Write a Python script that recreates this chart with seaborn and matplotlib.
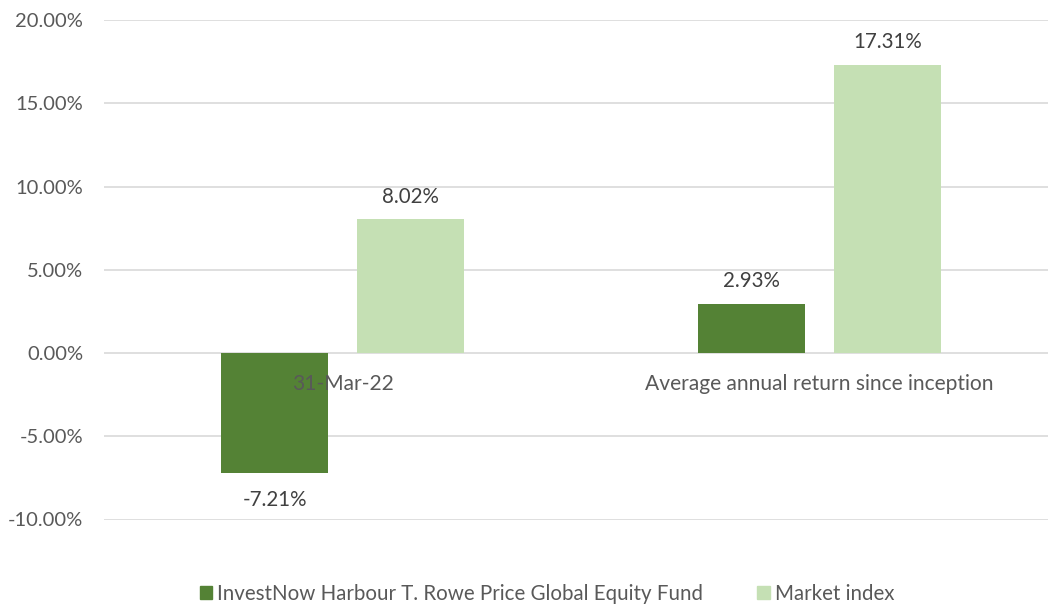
import pandas as pd
import seaborn as sns
import matplotlib.pyplot as plt
from matplotlib.patches import Patch

periods = ['31-Mar-22', 'Average annual return since inception']
series = ['InvestNow Harbour T. Rowe Price Global Equity Fund', 'Market index']
fund_returns = [-7.21, 2.93]
index_returns = [8.02, 17.31]
colors = ['#548235', '#C5E0B4']
yticks = [-10, -5, 0, 5, 10, 15, 20]

df = pd.DataFrame({
    'period': periods * 2,
    'series': [series[0]] * 2 + [series[1]] * 2,
    'value': fund_returns + index_returns,
})

sns.set_theme(style='white')
plt.rcParams['font.family'] = ['Lato', 'DejaVu Sans']
txt = '#595959'
fs = 14.8

fig = plt.figure(figsize=(10.48, 6.06), dpi=100)
ax = fig.add_axes([104 / 1048, (606 - 519.5) / 606, 954 / 1048, 499.5 / 606])

sns.barplot(data=df, x='period', y='value', hue='series', palette=colors,
            width=0.57, gap=0.214, ax=ax, legend=False, saturation=1,
            linewidth=0)

ax.set_ylim(-10, 20)
ax.set_xlim(-0.5, 1.5)
ax.set_yticks(yticks)
ax.set_yticklabels([f'{v:.2f}%' for v in yticks], color=txt, fontsize=14.5)
ax.yaxis.grid(True, color='#D9D9D9', lw=1.2)
ax.set_axisbelow(True)
for s in ax.spines.values():
    s.set_visible(False)
ax.tick_params(axis='y', length=0, pad=15)
ax.set_xticks([])
ax.set_xlabel('')
ax.set_ylabel('')

# category labels drawn on top of the bars, as in the original
for i, p in enumerate(periods):
    ax.annotate(p, (i, 0), xytext=(0, -22), textcoords='offset points',
                ha='center', va='center', color=txt, fontsize=15.1, zorder=5)

# value labels
for cont in ax.containers:
    for b in cont:
        h = b.get_height()
        off = 16.5 if h >= 0 else -19.5
        ax.annotate(f'{h:.2f}%', (b.get_x() + b.get_width() / 2, h),
                    xytext=(0, off), textcoords='offset points',
                    ha='center', va='center', color='#404040', fontsize=fs)

handles = [Patch(color=c) for c in colors]
fig.legend(handles, series, loc='center', bbox_to_anchor=(547 / 1048, 1 - 594 / 606),
           ncol=2, frameon=False, handlelength=0.6, handleheight=0.6,
           handletextpad=0.25, columnspacing=2.65, prop={'size': fs},
           labelcolor=txt)

fig.savefig('out.png', dpi=100)
